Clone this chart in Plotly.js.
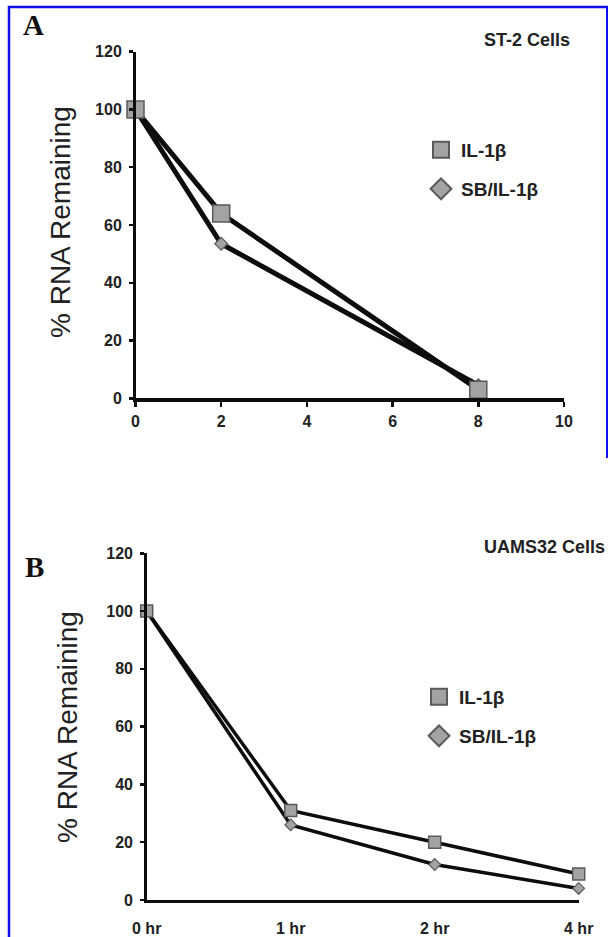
<!DOCTYPE html>
<html>
<head>
<meta charset="utf-8">
<script src="https://cdn.plot.ly/plotly-3.0.1.min.js"></script>
<style>
  html, body { margin: 0; padding: 0; background: #ffffff; }
  #chart { width: 608px; height: 937px; }
</style>
</head>
<body>
<div id="chart"></div>
<script>
// ---- Panel A data (ST-2 cells) ----
var timeA = [0, 2, 8];
var il1bA = [100, 64, 3];
var sbIl1bA = [100, 53.5, 4.5];
var xTicksA = [0, 2, 4, 6, 8, 10];

// ---- Panel B data (UAMS32 cells) ----
var timeB = ['0 hr', '1 hr', '2 hr', '4 hr'];
var il1bB = [100, 31, 20, 9];
var sbIl1bB = [100, 26, 12.3, 4];

var yTicks = [0, 20, 40, 60, 80, 100, 120];

var seriesNames = ['IL-1\u03B2', 'SB/IL-1\u03B2'];

var FILL = '#a3a3a3';
var EDGE = '#5a5a5a';
var LINE = '#0d0d0d';
var TXT = '#222222';
var FONT = 'Liberation Sans, Arial, sans-serif';

var W = 608, H = 937;
function px(x) { return x / W; }
function py(y) { return 1 - y / H; }

var traces = [
  // Panel A
  { x: timeA, y: sbIl1bA, xaxis: 'x', yaxis: 'y', mode: 'lines+markers', showlegend: false, cliponaxis: false,
    line: { color: LINE, width: 5 },
    marker: { symbol: 'diamond', size: 10, color: FILL, line: { color: EDGE, width: 1.2 } } },
  { x: timeA, y: il1bA, xaxis: 'x', yaxis: 'y', mode: 'lines+markers', showlegend: false, cliponaxis: false,
    line: { color: LINE, width: 5 },
    marker: { symbol: 'square', size: 17, color: FILL, line: { color: EDGE, width: 1.5 } } },
  // Panel B
  { x: timeB, y: sbIl1bB, xaxis: 'x2', yaxis: 'y2', mode: 'lines+markers', showlegend: false, cliponaxis: false,
    line: { color: LINE, width: 3.5 },
    marker: { symbol: 'diamond', size: 9, color: FILL, line: { color: EDGE, width: 1.2 } } },
  { x: timeB, y: il1bB, xaxis: 'x2', yaxis: 'y2', mode: 'lines+markers', showlegend: false, cliponaxis: false,
    line: { color: LINE, width: 3.5 },
    marker: { symbol: 'square', size: 12, color: FILL, line: { color: EDGE, width: 1.5 } } },
  // Legend entries
  { x: [null], y: [null], xaxis: 'x', yaxis: 'y', mode: 'markers', name: seriesNames[0], legend: 'legend',
    marker: { symbol: 'square', size: 16, color: FILL, line: { color: EDGE, width: 2 } } },
  { x: [null], y: [null], xaxis: 'x', yaxis: 'y', mode: 'markers', name: seriesNames[1], legend: 'legend2',
    marker: { symbol: 'diamond', size: 16, color: FILL, line: { color: EDGE, width: 2 } } },
  { x: [null], y: [null], xaxis: 'x2', yaxis: 'y2', mode: 'markers', name: seriesNames[0], legend: 'legend3',
    marker: { symbol: 'square', size: 16, color: FILL, line: { color: EDGE, width: 2 } } },
  { x: [null], y: [null], xaxis: 'x2', yaxis: 'y2', mode: 'markers', name: seriesNames[1], legend: 'legend4',
    marker: { symbol: 'diamond', size: 16, color: FILL, line: { color: EDGE, width: 2 } } }
];

function legendAt(xl, yc) {
  return { x: px(xl), y: py(yc), xanchor: 'left', yanchor: 'middle', xref: 'paper', yref: 'paper',
    bgcolor: 'rgba(0,0,0,0)', borderwidth: 0, itemclick: false, itemdoubleclick: false,
    font: { family: FONT, size: 19, color: TXT, weight: 'bold' } };
}

var tickFont = { family: FONT, size: 16, color: TXT, weight: 'bold' };

var layout = {
  width: W, height: H,
  margin: { l: 0, r: 0, t: 0, b: 0 },
  paper_bgcolor: '#ffffff', plot_bgcolor: 'rgba(0,0,0,0)',
  showlegend: true,
  hovermode: false,
  xaxis: { domain: [px(135.5), px(564)], range: [0, 10], tickvals: xTicksA, ticktext: xTicksA.map(String),
    showgrid: false, zeroline: false, showline: true, linecolor: LINE, linewidth: 4,
    ticks: 'outside', ticklen: 5, tickwidth: 2.5, tickcolor: LINE, tickfont: tickFont, ticklabelstandoff: 0,
    fixedrange: true },
  yaxis: { domain: [py(398.3), py(51.7)], range: [0, 120], tickvals: yTicks, ticktext: yTicks.map(String),
    showgrid: false, zeroline: false, showline: true, linecolor: LINE, linewidth: 2.5,
    ticks: 'outside', ticklen: 4, tickwidth: 2.5, tickcolor: LINE, tickfont: tickFont, ticklabelstandoff: 4,
    fixedrange: true },
  xaxis2: { domain: [px(146.7), px(578.7)], type: 'category', range: [0, 3], anchor: 'y2',
    showgrid: false, zeroline: false, showline: true, linecolor: LINE, linewidth: 3,
    ticks: '', tickfont: tickFont, ticklabelstandoff: 12, fixedrange: true },
  yaxis2: { domain: [py(900), py(553.3)], range: [0, 120], anchor: 'x2', tickvals: yTicks, ticktext: yTicks.map(String),
    showgrid: false, zeroline: false, showline: true, linecolor: LINE, linewidth: 2.5,
    ticks: 'outside', ticklen: 4, tickwidth: 2.5, tickcolor: LINE, tickfont: tickFont, ticklabelstandoff: 4,
    fixedrange: true },
  legend: legendAt(421, 150),
  legend2: legendAt(421, 189),
  legend3: legendAt(419, 697),
  legend4: legendAt(419, 736),
  annotations: [
    { text: '<b>A</b>', xref: 'paper', yref: 'paper', x: px(33), y: py(25), xanchor: 'center', yanchor: 'middle', showarrow: false,
      font: { family: 'Liberation Serif, Times New Roman, serif', size: 29, color: '#111' } },
    { text: '<b>B</b>', xref: 'paper', yref: 'paper', x: px(34), y: py(567), xanchor: 'center', yanchor: 'middle', showarrow: false,
      font: { family: 'Liberation Serif, Times New Roman, serif', size: 29, color: '#111' } },
    { text: '<b>ST-2 Cells</b>', xref: 'paper', yref: 'paper', x: px(572), y: py(40), xanchor: 'right', yanchor: 'middle', showarrow: false,
      font: { family: FONT, size: 18, color: TXT } },
    { text: '<b>UAMS32 Cells</b>', xref: 'paper', yref: 'paper', x: px(607), y: py(547), xanchor: 'right', yanchor: 'middle', showarrow: false,
      font: { family: FONT, size: 18, color: TXT } },
    { text: '% RNA Remaining', xref: 'paper', yref: 'paper', x: px(60), y: py(222), xanchor: 'center', yanchor: 'middle', textangle: -90, showarrow: false,
      font: { family: FONT, size: 28, color: TXT } },
    { text: '% RNA Remaining', xref: 'paper', yref: 'paper', x: px(67), y: py(727), xanchor: 'center', yanchor: 'middle', textangle: -90, showarrow: false,
      font: { family: FONT, size: 28, color: TXT } }
  ],
  shapes: [
    { type: 'line', xref: 'paper', yref: 'paper', x0: px(9), x1: px(9), y0: 0, y1: py(6), line: { color: '#1010f0', width: 2.5 } },
    { type: 'line', xref: 'paper', yref: 'paper', x0: px(8), x1: px(608), y0: py(7), y1: py(7), line: { color: '#1010f0', width: 2.5 } },
    { type: 'line', xref: 'paper', yref: 'paper', x0: px(607), x1: px(607), y0: py(6), y1: py(458), line: { color: '#1010f0', width: 2 } }
  ]
};

Plotly.newPlot('chart', traces, layout, { staticPlot: true, displayModeBar: false });
</script>
</body>
</html>
